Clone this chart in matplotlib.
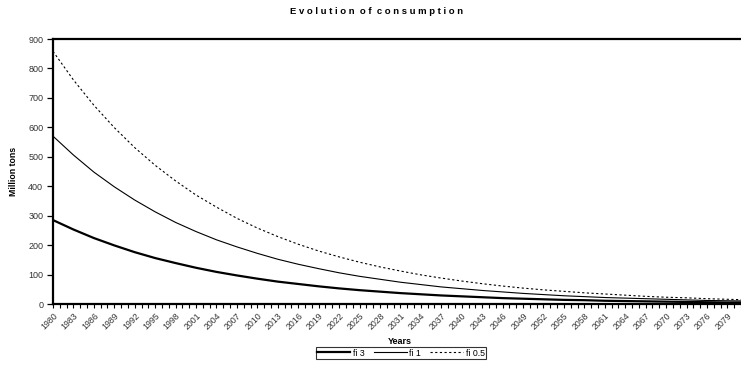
import numpy as np
import matplotlib.pyplot as plt
from matplotlib.ticker import MultipleLocator

plt.rcParams['font.family'] = ['Liberation Sans', 'DejaVu Sans']

# consumption scenarios, sampled every 3 years
years = np.arange(1980, 2083, 3)
fi_3 = [285, 253, 224, 199, 176, 156, 139, 123, 109, 97, 86, 76, 68, 60, 53, 47, 42,
        37, 33, 29, 26, 23, 20, 18, 16, 14, 13, 11, 10, 9, 8, 7, 6, 5, 5]
fi_1 = [570, 506, 448, 398, 353, 313, 277, 246, 218, 194, 172, 152, 135, 120, 106, 94, 84,
        74, 66, 58, 52, 46, 41, 36, 32, 28, 25, 22, 20, 18, 16, 14, 12, 11, 10]
fi_05 = [858, 761, 675, 599, 531, 471, 418, 370, 329, 291, 258, 229, 203, 180, 160, 142, 126,
         112, 99, 88, 78, 69, 61, 54, 48, 43, 38, 34, 30, 26, 23, 21, 18, 16, 14]

fig = plt.figure(figsize=(7.41, 3.74), dpi=100)
ax = fig.add_axes([53 / 741, 1 - 304 / 374, 1 - 53 / 741, (304 - 39) / 374])

ax.plot(years, fi_3, color='black', lw=1.6, label='fi 3')
ax.plot(years, fi_1, color='black', lw=0.8, label='fi 1')
ax.plot(years, fi_05, color='black', lw=0.8, ls=(0, (2, 2.2)), label='fi 0.5')

ax.set_xlim(1980, 2081)
ax.set_ylim(0, 900)
ax.yaxis.set_major_locator(MultipleLocator(100))
ax.set_xticks(np.arange(1980, 2080, 3))
ax.xaxis.set_minor_locator(MultipleLocator(1))

for side in ['left', 'top', 'bottom']:
    ax.spines[side].set_linewidth(1.6)
ax.spines['right'].set_visible(False)

ax.tick_params(axis='y', length=4, width=0.9, labelsize=6.5, labelcolor='#333333', pad=3)
ax.tick_params(axis='x', which='both', length=3, width=0.8, labelsize=6.3,
               labelcolor='#333333', pad=2)
plt.setp(ax.get_xticklabels(), rotation=45, ha='right', va='top', rotation_mode='anchor')

ax.set_xlabel('Years', fontsize=6.5, fontweight='bold', va='center')
ax.xaxis.set_label_coords((400 - 53) / 688, (304 - 342) / 265)
ax.set_ylabel('Million tons', fontsize=6.3, fontweight='bold', labelpad=7)
fig.text(377 / 741, 1 - 12 / 374, 'E v o l u t i o n  o f  c o n s u m p t i o n',
         ha='center', va='center', fontsize=6.8, fontweight='bold')

leg = ax.legend(loc='center', bbox_to_anchor=(401 / 741, 1 - 353 / 374),
                bbox_transform=fig.transFigure, ncol=3, fontsize=6.3, frameon=True,
                fancybox=False, edgecolor='black', handlelength=3.8, handletextpad=0.3,
                columnspacing=1.0, borderpad=0.15)
leg.get_frame().set_linewidth(0.8)

fig.savefig('out.png', dpi=100)
